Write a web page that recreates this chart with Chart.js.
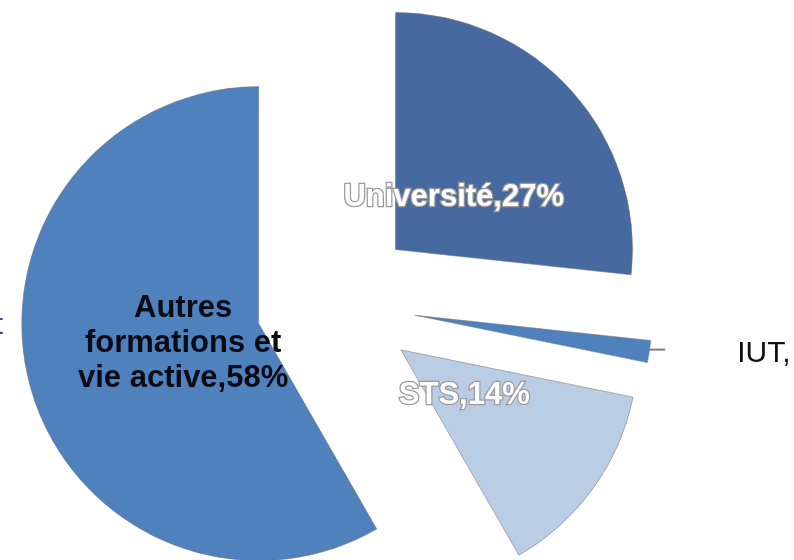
<!DOCTYPE html>
<html>
<head>
<meta charset="utf-8">
<script src="https://cdn.jsdelivr.net/npm/chart.js@4/dist/chart.umd.min.js"></script>
<style>
  html, body { margin: 0; padding: 0; background: #fff; }
  canvas { display: block; }
</style>
</head>
<body>
<canvas id="pieChart" width="794" height="560"></canvas>
<script>
// Répartition des bacheliers (lecture du graphique)
const categories = ['Université', 'IUT', 'STS', 'Autres formations et vie active'];
const shares = [26.7, 1.5, 13.5, 58.3];
const shownPercents = ['27%', '1%', '14%', '58%'];

const explode = 80;
const labelFont = 'bold 31px "Liberation Sans", Arial, sans-serif';

// Pushes every slice out along its middle angle (all the same distance)
const explodePlugin = {
  id: 'explode',
  afterDatasetsUpdate(chart) {
    chart.getDatasetMeta(0).data.forEach(arc => {
      const mid = (arc.startAngle + arc.endAngle) / 2;
      arc.x += Math.cos(mid) * explode;
      arc.y += Math.sin(mid) * explode;
    });
  }
};

function wrapWords(ctx, text, maxWidth) {
  let words = text.split(' ');
  let lines = [];
  let line = '';
  words.forEach(w => {
    let test = line ? line + ' ' + w : w;
    if (line && ctx.measureText(test).width > maxWidth) {
      lines.push(line);
      line = w;
    } else {
      line = test;
    }
  });
  lines.push(line);
  return lines;
}

// Data labels, Excel style
const labelPlugin = {
  id: 'sliceLabels',
  afterDatasetsDraw(chart) {
    const ctx = chart.ctx;
    const meta = chart.getDatasetMeta(0);
    ctx.save();
    meta.data.forEach((arc, i) => {
      const mid = (arc.startAngle + arc.endAngle) / 2;
      if (shares[i] < 5) {
        // small slice: leader line and label outside
        let x0 = arc.x + Math.cos(mid) * arc.outerRadius;
        let y0 = arc.y + Math.sin(mid) * arc.outerRadius;
        ctx.strokeStyle = '#7f7f7f';
        ctx.lineWidth = 2;
        ctx.beginPath();
        ctx.moveTo(x0, y0 - 2);
        ctx.lineTo(x0 + 16, y0 - 2);
        ctx.stroke();
        ctx.font = '30px "Liberation Sans", Arial, sans-serif';
        ctx.fillStyle = '#111';
        ctx.textAlign = 'left';
        ctx.textBaseline = 'middle';
        ctx.fillText(categories[i] + ', ' + shownPercents[i], x0 + 88, y0 + 2);
        return;
      }
      const text = categories[i] + ',' + shownPercents[i];
      const r = arc.outerRadius * 0.33;
      const cx = arc.x + Math.cos(mid) * r;
      const cy = arc.y + Math.sin(mid) * r;
      ctx.font = labelFont;
      ctx.textAlign = 'center';
      ctx.textBaseline = 'middle';
      const lines = wrapWords(ctx, text, 232);
      const lh = 35;
      lines.forEach((ln, k) => {
        const y = cy + (k - (lines.length - 1) / 2) * lh;
        if (i === 3) {
          ctx.fillStyle = '#0a0a14';
          ctx.fillText(ln, cx, y);
        } else {
          ctx.lineWidth = 2.5;
          ctx.strokeStyle = '#9a9a9a';
          ctx.strokeText(ln, cx, y);
          ctx.fillStyle = '#ffffff';
          ctx.fillText(ln, cx, y);
        }
      });
    });
    // cut-off text at the left border
    ctx.font = '30px "Liberation Sans", Arial, sans-serif';
    ctx.fillStyle = '#2b4f9e';
    ctx.textAlign = 'right';
    ctx.textBaseline = 'alphabetic';
    ctx.fillText('t', 3, 334);
    ctx.restore();
  }
};

let ctx = document.getElementById('pieChart').getContext('2d');
let pieChart = new Chart(ctx, {
  type: 'pie',
  data: {
    labels: categories,
    datasets: [{
      data: shares,
      backgroundColor: ['#46699f', '#4f81bd', '#b9cde5', '#4f81bd'],
      borderColor: 'rgba(120,120,120,0.55)',
      borderWidth: 1,
      radius: 237,
      clip: false
    }]
  },
  options: {
    responsive: false,
    animation: false,
    events: [],
    layout: {
      padding: { left: 0, right: 122, top: 46, bottom: 0 }
    },
    plugins: {
      legend: { display: false },
      tooltip: { enabled: false }
    }
  },
  plugins: [explodePlugin, labelPlugin]
});
</script>
</body>
</html>
